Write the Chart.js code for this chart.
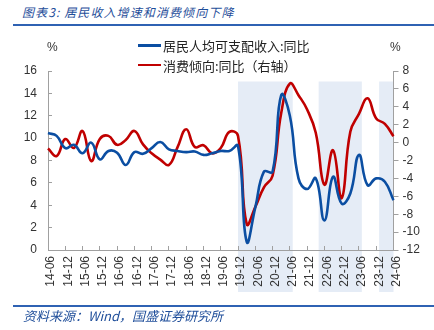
<!DOCTYPE html>
<html>
<head>
<meta charset="utf-8">
<script src="https://cdn.jsdelivr.net/npm/chart.js@4.4.1/dist/chart.umd.min.js"></script>
<style>
  body { margin: 0; background: #fff; }
  #wrap { position: relative; width: 434px; height: 330px; overflow: hidden; background: #fff;
          font-family: "Noto Sans CJK SC", "Liberation Sans", sans-serif; }
  #chart { position: absolute; left: 0; top: 0; }
  .title, .source { position: absolute; left: 22px; font-size: 13px; line-height: 16px;
                    font-style: italic; color: #1f4e9a; white-space: nowrap; }
  .title { top: 4px; font-size: 12px; letter-spacing: 1.1px; }
  .source { top: 308px; left: 23px; }
  .rule { position: absolute; left: 13px; right: 0; height: 2px; background: #2f62b3; }
  .unit { position: absolute; font: 12px "Liberation Sans", sans-serif; color: #333; }
  .legend-row { position: absolute; left: 138px; height: 16px; display: flex; align-items: center;
                font-size: 13px; color: #222; white-space: nowrap; }
  .legend-row i { display: inline-block; width: 23px; height: 2.5px; margin-right: 2px; }
</style>
</head>
<body>
<div id="wrap">
  <div class="title">图表3: 居民收入增速和消费倾向下降</div>
  <div class="rule" style="top:24px"></div>
  <canvas id="chart" width="434" height="330"></canvas>
  <span class="unit" style="left:47px;top:40px">%</span>
  <span class="unit" style="left:390px;top:40px">%</span>
  <div id="legend"></div>
  <div class="rule" style="top:305px"></div>
  <div class="source">资料来源：Wind，国盛证券研究所</div>
</div>
<script>
'use strict';

// quarters, 14-06 .. 24-06
const QUARTERS = [
    '14-06', '14-09', '14-12', '15-03', '15-06', '15-09', '15-12', '16-03', '16-06', '16-09',
    '16-12', '17-03', '17-06', '17-09', '17-12', '18-03', '18-06', '18-09', '18-12', '19-03',
    '19-06', '19-09', '19-12', '20-03', '20-06', '20-09', '20-12', '21-03', '21-06', '21-09',
    '21-12', '22-03', '22-06', '22-09', '22-12', '23-03', '23-06', '23-09', '23-12', '24-03',
    '24-06'
];

// 居民人均可支配收入:同比 (left axis, %)
const INCOME_YOY = [
    10.45, 10.2, 9.1, 9.4, 8.65, 9.6, 8.1, 8.85, 8.7, 7.6,
    8.75, 8.6, 9.1, 9.65, 9.0, 8.85, 8.75, 8.8, 8.5, 8.65,
    8.85, 8.85, 9.3, 0.75, 3.8, 7.0, 7.0, 13.85, 12.0, 6.4,
    5.45, 6.4, 2.65, 6.55, 4.15, 5.05, 8.5, 5.8, 6.4, 6.1,
    4.45
];

// 消费倾向:同比 (right axis, %)
const PROPENSITY_YOY = [
    -0.65, -1.5, 0.4, -0.6, 1.3, -2.05, 0.4, 0.75, -0.25, 0.3,
    1.3, -0.2, -1.2, -1.9, -2.5, -0.5, 1.5, -0.5, -0.3, -1.2,
    -0.6, 1.2, 0.75, -9.1, -7.2, -5.0, -3.7, 3.3, 6.6, 5.3,
    3.7, 1.1, -4.7, -0.85, -6.2, 1.2, 3.2, 4.95, 2.7, 2.1,
    0.7
];

// shaded periods (yy-mm)
const SHADES = [['19-12', '21-07'], ['22-04', '23-07'], ['24-01', '24-06']];

const LEFT_TICKS = { min: 0, max: 16, step: 2 };
const RIGHT_TICKS = { min: -12, max: 8, step: 2 };

const AXIS = '#a0a0a0';
const BLUE = '#0b4ea2';
const RED = '#c00000';
const SHADE = '#e5ecf6';
const TICK_FONT = { family: 'Liberation Sans', size: 12 };

let isShown = (lab) => lab.endsWith('06') || lab.endsWith('12');

// yy-mm -> position on the quarter index
let periodIndex = (p) => {
    const [yy, mm] = p.split('-').map(Number);
    return (yy - 14) * 4 + (mm - 6) / 3;
};

const shadePlugin = {
    id: 'shades',
    beforeDraw(chart) {
        const {ctx, chartArea, scales: {x}} = chart;
        const top = chartArea.top + 10.5;
        const bottom = chartArea.bottom + 42;
        ctx.save();
        ctx.fillStyle = SHADE;
        for (let [a, b] of SHADES) {
            const x0 = x.getPixelForValue(periodIndex(a));
            const x1 = x.getPixelForValue(periodIndex(b));
            ctx.fillRect(x0, top, x1 - x0, bottom - top);
        }
        ctx.restore();
    }
};

const chart = new Chart(document.getElementById('chart'), {
    type: 'line',
    data: {
        labels: QUARTERS,
        datasets: [{
            label: '居民人均可支配收入:同比',
            data: INCOME_YOY,
            yAxisID: 'y',
            borderColor: BLUE,
            borderWidth: 2.6,
            pointRadius: 0,
            tension: 0.45
        }, {
            label: '消费倾向:同比（右轴）',
            data: PROPENSITY_YOY,
            yAxisID: 'y1',
            borderColor: RED,
            borderWidth: 2.6,
            pointRadius: 0,
            tension: 0.45
        }]
    },
    options: {
        responsive: false,
        animation: false,
        layout: { padding: { top: 71, left: 0, right: 0, bottom: 0 } },
        plugins: {
            legend: { display: false },
            tooltip: { enabled: false }
        },
        scales: {
            x: {
                type: 'category',
                offset: false,
                border: { color: AXIS },
                grid: {
                    drawOnChartArea: false,
                    tickLength: -4,
                    tickColor: (c) => isShown(QUARTERS[c.index] || '') ? AXIS : 'rgba(0,0,0,0)'
                },
                ticks: {
                    autoSkip: false,
                    minRotation: 90,
                    maxRotation: 90,
                    padding: 10,
                    labelOffset: 3,
                    color: '#333',
                    font: TICK_FONT,
                    callback: function (value) {
                        const lab = this.getLabelForValue(value);
                        return isShown(lab) ? lab : '';
                    }
                },
                afterFit: (s) => { s.height = 80; }
            },
            y: {
                position: 'left',
                min: LEFT_TICKS.min,
                max: LEFT_TICKS.max,
                border: { color: AXIS },
                grid: { drawOnChartArea: false, tickLength: -4, tickColor: AXIS },
                ticks: { stepSize: LEFT_TICKS.step, padding: 15, color: '#333', font: TICK_FONT },
                afterFit: (s) => { s.width = 48; }
            },
            y1: {
                position: 'right',
                min: RIGHT_TICKS.min,
                max: RIGHT_TICKS.max,
                border: { color: AXIS },
                grid: { drawOnChartArea: false, tickLength: 5, tickColor: AXIS },
                ticks: { stepSize: RIGHT_TICKS.step, padding: 4, color: '#333', font: TICK_FONT },
                afterFit: (s) => { s.width = 40.5; }
            }
        }
    },
    plugins: [shadePlugin]
});

// html legend from the chart's datasets
const legendBox = document.getElementById('legend');
const ROW_TOPS = [37.5, 57];
chart.data.datasets.forEach((ds, i) => {
    const row = document.createElement('div');
    row.className = 'legend-row';
    row.style.top = ROW_TOPS[i] + 'px';
    const mark = document.createElement('i');
    mark.style.background = ds.borderColor;
    row.appendChild(mark);
    row.appendChild(document.createTextNode(ds.label));
    legendBox.appendChild(row);
});
</script>
</body>
</html>
